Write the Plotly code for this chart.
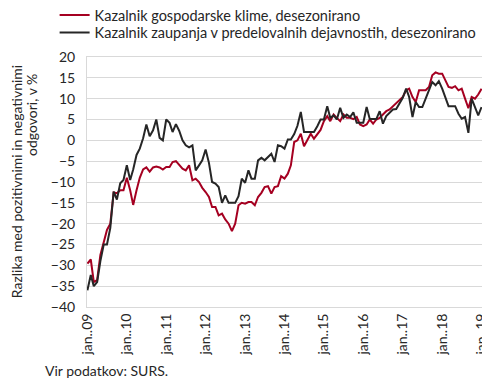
import pandas as pd
import plotly.graph_objects as go

months = pd.date_range("2009-01-01", periods=121, freq="MS")

klima = [
    -29.6, -28.6, -34, -33.5, -27.5, -24.4, -21.5, -20, -12.5, -12.7, -12, -12,
    -9, -12, -15.5, -12, -9, -7, -6.5, -7.5, -6.5, -6.3, -6.5, -7,
    -6.4, -6.4, -5.2, -5, -6, -6.8, -7.2, -6, -9.6, -9.2, -10, -11.4,
    -12.4, -13.6, -16, -16, -18, -17.6, -19, -20, -21.8, -20, -15.6, -15,
    -15.2, -14.8, -14.8, -15.6, -13.6, -12.6, -11.2, -11, -12.8, -11.2, -11, -8.6,
    -9.2, -8, -6, -0.4, 0, 1.6, -1.4, 0.2, 1.6, 0.4, 1.6, 2.5,
    4.6, 5.8, 4.6, 6.2, 5.4, 4.6, 6.2, 5.4, 5.4, 5.1, 5.6, 3.8,
    3.4, 3.8, 5, 4, 5, 5.4, 6.2, 7, 7.4, 8.2, 8.8, 9.8,
    10.4, 12, 12.4, 10.4, 9.2, 12, 12, 12, 12.8, 15.6, 16.3, 16,
    16, 14.4, 12.8, 12.6, 13, 12, 12.4, 10, 7.7, 10.4, 10, 11,
    12.4,
]

zaupanje = [
    -36, -32.3, -35, -34, -29, -25, -25, -21, -12.3, -14.2, -10.3, -9.5,
    -6, -9.5, -7, -3.5, -2, 0.5, 3.8, 1, 2.4, 5, 0.6, 0,
    5, 4.2, 2, 3.9, 2.3, 0, -1.2, -1.7, -1.2, -7.2, -6, -4.8,
    -2.2, -5.4, -10, -10.4, -11.2, -15, -13.2, -15, -15, -15, -13.4, -9.2,
    -10.2, -7.2, -9.2, -9.2, -4.8, -4.2, -4.8, -4, -3.2, -5.2, -1.2, -1.4,
    -2, 0.2, 0.2, 1.5, 3.5, 6.8, 2, 2, 2, 2, 3.4, 5,
    5, 8.2, 5.4, 6, 5, 7.8, 5.4, 6.2, 5.6, 6.7, 4.2, 4.2,
    4.2, 8, 5.1, 5.1, 5.1, 7, 4, 5.8, 6.6, 7.4, 7.5, 9,
    10.2, 12.4, 10.4, 5.6, 9.2, 8, 8, 10, 12, 14, 13.2, 14.2,
    12.4, 10.4, 8.2, 8.2, 8.2, 6.4, 5.2, 5.6, 1.8, 10, 8, 6,
    8,
]

tick_vals = pd.date_range("2009-01-01", "2019-01-01", freq="YS")
tick_text = ["jan..%02d" % (d.year % 100) for d in tick_vals]

names = [
    "Kazalnik gospodarske klime, desezonirano",
    "Kazalnik zaupanja v predelovalnih dejavnostih, desezonirano",
]
colors = ["#a50021", "#262626"]

FONT = "Lato"
TXT = "#262626"

fig = go.Figure()
fig.add_trace(go.Scatter(x=months, y=klima, mode="lines", name=names[0],
                         legend="legend",
                         line=dict(color=colors[0], width=2)))
fig.add_trace(go.Scatter(x=months, y=zaupanje, mode="lines", name=names[1],
                         legend="legend2",
                         line=dict(color=colors[1], width=2)))

leg_common = dict(xanchor="left", yanchor="top", bgcolor="rgba(0,0,0,0)",
                  font=dict(size=14.5, color=TXT), itemwidth=30)

# page body has an 8px margin: figure is drawn 8px smaller and offset
fig.update_layout(
    width=482, height=373,
    margin=dict(l=79, r=8, t=49, b=74, autoexpand=False),
    paper_bgcolor="white", plot_bgcolor="white",
    font=dict(family=FONT, size=14, color=TXT),
    showlegend=True,
    legend=dict(x=-0.082, y=1.232, **leg_common),
    legend2=dict(x=-0.082, y=1.162, **leg_common),
    xaxis=dict(
        range=[pd.Timestamp("2008-12-28"), pd.Timestamp("2019-01-05")],
        tickmode="array", tickvals=tick_vals, ticktext=tick_text,
        tickangle=-90, showgrid=False, zeroline=False, automargin=False,
        showline=True, linecolor="#d9d9d9", linewidth=1, mirror=True,
        ticks="", tickfont=dict(size=14, color=TXT),
    ),
    yaxis=dict(
        range=[-40, 20], dtick=5, showgrid=True, gridcolor="#d9d9d9",
        gridwidth=1, zeroline=False, automargin=False,
        showline=True, linecolor="#d9d9d9", linewidth=1, mirror=True,
        ticks="", tickfont=dict(size=14, color=TXT), ticklabelstandoff=8,
    ),
    annotations=[
        dict(text="Razlika med pozitivnimi in negativnimi", textangle=-90,
             xref="paper", yref="paper", x=-0.178, y=0.502,
             xanchor="center", yanchor="middle", showarrow=False,
             font=dict(size=14, color=TXT)),
        dict(text="odgovori, v %", textangle=-90,
             xref="paper", yref="paper", x=-0.142, y=0.768,
             xanchor="center", yanchor="middle", showarrow=False,
             font=dict(size=14, color=TXT)),
        dict(text="Vir podatkov: SURS.", xref="paper", yref="paper",
             x=-0.111, y=-0.252, xanchor="left", yanchor="middle",
             showarrow=False, font=dict(size=14, color=TXT)),
    ],
)

fig.write_html("out.html")
